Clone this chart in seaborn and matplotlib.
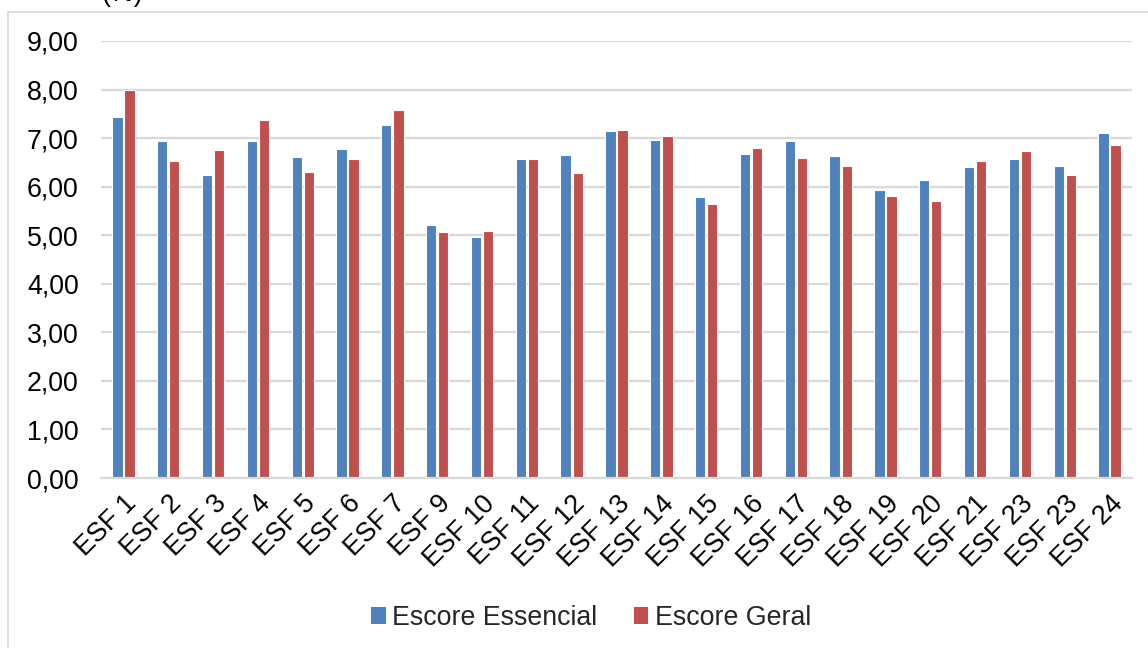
import matplotlib
matplotlib.use("Agg")
import matplotlib.pyplot as plt
from matplotlib.patches import Patch, Rectangle
from matplotlib.ticker import FuncFormatter
import numpy as np
import pandas as pd
import seaborn as sns

# Unidades de saúde (o rótulo "ESF 23" aparece duas vezes)
unidades = ["ESF 1", "ESF 2", "ESF 3", "ESF 4", "ESF 5", "ESF 6", "ESF 7",
            "ESF 9", "ESF 10", "ESF 11", "ESF 12", "ESF 13", "ESF 14",
            "ESF 15", "ESF 16", "ESF 17", "ESF 18", "ESF 19", "ESF 20",
            "ESF 21", "ESF 23", "ESF 23", "ESF 24"]

escore_essencial = [7.44, 6.95, 6.25, 6.94, 6.61, 6.77, 7.26, 5.22, 4.96,
                    6.58, 6.65, 7.14, 6.97, 5.79, 6.67, 6.95, 6.63, 5.94,
                    6.14, 6.40, 6.56, 6.42, 7.11]

escore_geral = [7.99, 6.53, 6.75, 7.37, 6.30, 6.56, 7.58, 5.06, 5.09,
                6.57, 6.28, 7.17, 7.05, 5.65, 6.80, 6.59, 6.43, 5.80,
                5.71, 6.53, 6.74, 6.23, 6.85]

series = ["Escore Essencial", "Escore Geral"]
cores = {"Escore Essencial": "#4F81BD", "Escore Geral": "#C0504D"}
yticks = [0, 1, 2, 3, 4, 5, 6, 7, 8, 9]

idx = list(range(len(unidades)))
df = pd.DataFrame({
    "pos": idx * 2,
    "serie": [series[0]] * len(idx) + [series[1]] * len(idx),
    "valor": escore_essencial + escore_geral,
})

sns.set_theme(style="white")
plt.rcParams["font.family"] = ["Liberation Sans", "DejaVu Sans"]

FS = 19.3
W, H = 1148, 648
fig = plt.figure(figsize=(W / 100, H / 100), dpi=100)
ax = fig.add_axes([101 / W, 1 - 478 / H, (1132 - 101) / W, (478 - 41) / H])

sns.barplot(data=df, x="pos", y="valor", hue="serie", hue_order=series,
            palette=cores, saturation=1, order=idx, width=0.54, gap=0.15,
            edgecolor="white", linewidth=0.8, legend=False, ax=ax)

ax.set_ylim(0, 9)
ax.set_xlim(-0.5, len(idx) - 0.5)
ax.set_yticks(yticks)
ax.yaxis.set_major_formatter(FuncFormatter(lambda v, p: f"{v:.2f}".replace(".", ",")))
ax.yaxis.grid(True, color="#d9d9d9", linewidth=1.6)
ax.set_axisbelow(True)
ax.set_xticks(idx)
ax.set_xticklabels(unidades, rotation=45, ha="right", rotation_mode="anchor")
ax.tick_params(axis="both", length=0, labelsize=FS, colors="black")
ax.tick_params(axis="y", pad=16)
ax.tick_params(axis="x", pad=9)
ax.set_xlabel("")
ax.set_ylabel("")
for s in ["top", "right", "left"]:
    ax.spines[s].set_visible(False)
ax.spines["bottom"].set_color("#d9d9d9")
ax.spines["bottom"].set_linewidth(1.6)

# Título do eixo, parcialmente visível no topo
fig.text(122 / W, 1 - 1 / H, "(%)", ha="center", va="baseline",
         fontsize=FS, color="black")

# Moldura da área do gráfico
fig.patches.append(Rectangle((8 / W, -0.1), 1.2, 1.1 - 12 / H,
                             transform=fig.transFigure, fill=False,
                             edgecolor="#d9d9d9", linewidth=1.2))

handles = [Patch(facecolor=cores[s], edgecolor="none") for s in series]
fig.legend(handles, series, loc="center", bbox_to_anchor=(591 / W, 1 - 618 / H),
           ncol=2, frameon=False, fontsize=FS, handlelength=0.55,
           handleheight=0.55, handletextpad=0.25, columnspacing=1.35)

fig.savefig("out.png", dpi=100)
